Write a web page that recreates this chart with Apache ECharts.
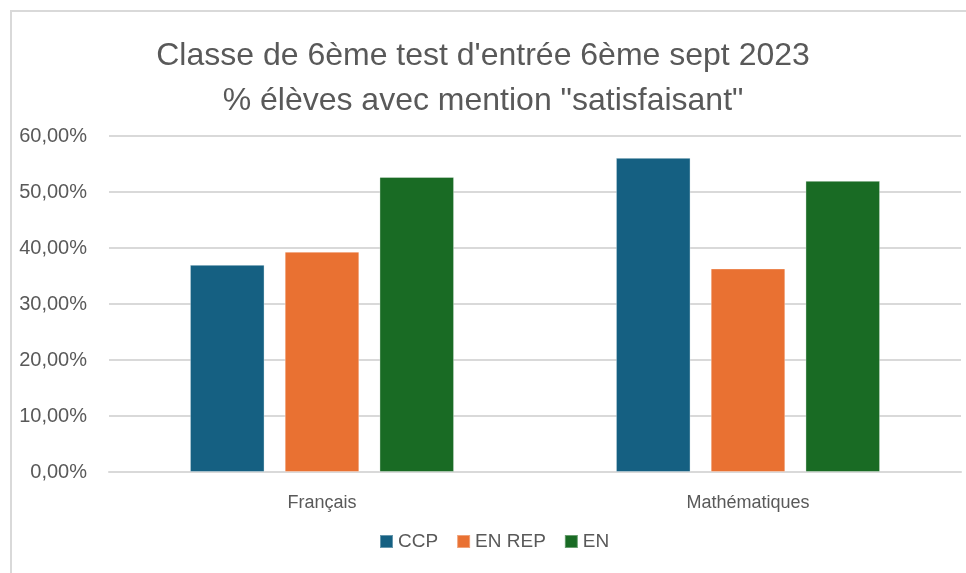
<!DOCTYPE html>
<html>
<head>
<meta charset="utf-8">
<script src="https://cdn.jsdelivr.net/npm/echarts@6/dist/echarts.min.js"></script>
<style>
  html, body { margin: 0; padding: 0; background: #fff; }
  #frame { position: absolute; left: 10px; top: 10px; width: 966px; height: 573px;
           border-left: 2px solid #d9d9d9; border-top: 2px solid #d9d9d9; }
  #main { position: absolute; left: 0; top: 0; width: 966px; height: 573px; }
</style>
</head>
<body>
<div id="frame"></div>
<div id="main"></div>
<script>
// données
const categories = ['Français', 'Mathématiques']
const seriesNames = ['CCP', 'EN REP', 'EN']
const ccp = [37.0, 56.1]
const enRep = [39.35, 36.35]
const en = [52.7, 52.0]
const colors = ['#156082', '#E97132', '#196B24']

const chart = echarts.init(document.getElementById('main'))
const makeBar = (name, data, i) => ({
  name: name,
  type: 'bar',
  data: data,
  barGap: '27%',
  barCategoryGap: '38%',
  itemStyle: { color: colors[i], borderColor: 'rgba(255,255,255,0.35)', borderWidth: 1 }
})

chart.setOption({
  animation: false,
  title: {
    text: "Classe de 6ème test d'entrée 6ème sept 2023\n% élèves avec mention \"satisfaisant\"",
    left: 'center',
    top: 29,
    textStyle: {
      fontFamily: 'Liberation Sans, sans-serif',
      fontWeight: 'normal',
      fontSize: 32,
      lineHeight: 45,
      color: '#595959'
    }
  },
  legend: {
    data: seriesNames,
    top: 527,
    left: 374,
    itemWidth: 13,
    itemHeight: 13,
    itemGap: 18,
    icon: 'rect',
    textStyle: { fontFamily: 'Liberation Sans', fontSize: 19, color: '#595959', padding: [0, 0, 0, 0] }
  },
  grid: { left: 109, right: 5, top: 136, bottom: 101, containLabel: false },
  xAxis: {
    type: 'category',
    data: categories,
    axisLine: { lineStyle: { color: '#d9d9d9', width: 2 } },
    axisTick: { show: false },
    axisLabel: { fontFamily: 'Liberation Sans', fontSize: 18, color: '#595959', margin: 22 }
  },
  yAxis: {
    type: 'value',
    min: 0,
    max: 60,
    interval: 10,
    axisLine: { show: false },
    axisTick: { show: false },
    splitLine: { lineStyle: { color: '#d9d9d9', width: 2 } },
    axisLabel: {
      fontFamily: 'Liberation Sans',
      fontSize: 20,
      color: '#595959',
      margin: 22,
      formatter: v => v.toFixed(2).replace('.', ',') + '%'
    }
  },
  series: [
    makeBar(seriesNames[0], ccp, 0),
    makeBar(seriesNames[1], enRep, 1),
    makeBar(seriesNames[2], en, 2)
  ]
})
</script>
</body>
</html>
